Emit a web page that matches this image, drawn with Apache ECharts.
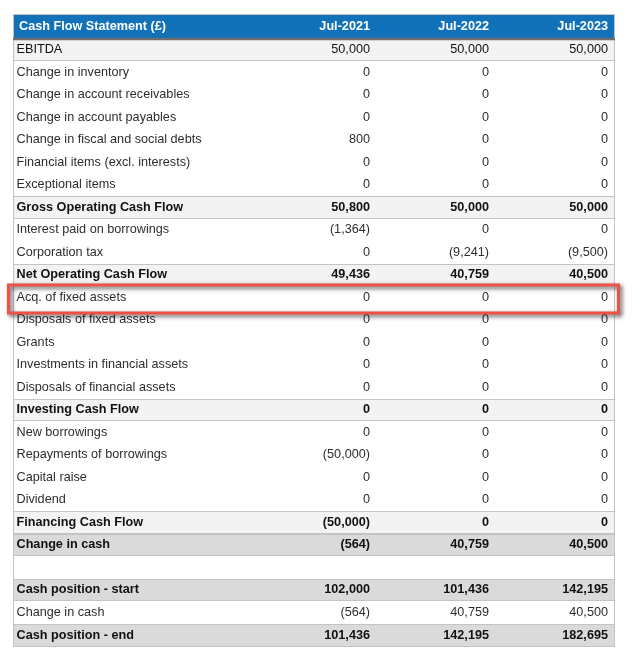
<!DOCTYPE html>
<html>
<head>
<meta charset="utf-8">
<script src="https://cdn.jsdelivr.net/npm/echarts@6/dist/echarts.min.js"></script>
<style>
html,body{margin:0;padding:0;background:#fff;}
#chart{width:641px;height:662px;}
</style>
</head>
<body>
<div id="chart"></div>
<script>
// ---- data ----
const title = 'Cash Flow Statement (£)';
const periods = ['Jul-2021', 'Jul-2022', 'Jul-2023'];
const rowLabels = [
  'EBITDA',
  'Change in inventory',
  'Change in account receivables',
  'Change in account payables',
  'Change in fiscal and social debts',
  'Financial items (excl. interests)',
  'Exceptional items',
  'Gross Operating Cash Flow',
  'Interest paid on borrowings',
  'Corporation tax',
  'Net Operating Cash Flow',
  'Acq. of fixed assets',
  'Disposals of fixed assets',
  'Grants',
  'Investments in financial assets',
  'Disposals of financial assets',
  'Investing Cash Flow',
  'New borrowings',
  'Repayments of borrowings',
  'Capital raise',
  'Dividend',
  'Financing Cash Flow',
  'Change in cash',
  '',
  'Cash position - start',
  'Change in cash',
  'Cash position - end'
];
const rowKinds = [
  'ebitda', 'normal', 'normal', 'normal', 'normal', 'normal', 'normal',
  'subtotal', 'normal', 'normal', 'subtotal',
  'normal', 'normal', 'normal', 'normal', 'normal', 'subtotal',
  'normal', 'normal', 'normal', 'normal', 'subtotal',
  'total', 'blank', 'total', 'normal', 'total'
];
const values2021 = [50000, 0, 0, 0, 800, 0, 0, 50800, -1364, 0, 49436, 0, 0, 0, 0, 0, 0, 0, -50000, 0, 0, -50000, -564, null, 102000, -564, 101436];
const values2022 = [50000, 0, 0, 0, 0, 0, 0, 50000, 0, -9241, 40759, 0, 0, 0, 0, 0, 0, 0, 0, 0, 0, 0, 40759, null, 101436, 40759, 142195];
const values2023 = [50000, 0, 0, 0, 0, 0, 0, 50000, 0, -9500, 40500, 0, 0, 0, 0, 0, 0, 0, 0, 0, 0, 0, 40500, null, 142195, 40500, 182695];
const highlightRow = 11;

// ---- layout / style ----
const TABLE_W = 602;
const LABEL_PAD = 3.5;
const HEADER_PAD = 6;
const VALUE_RIGHT = [357, 476, 595];
const FONT = 'Liberation Sans, Arial, sans-serif';
const FS = 12.67;
const kindStyle = {
  ebitda:   { bg: '#f3f3f3', weight: 'normal', color: '#111111', border: true },
  normal:   { bg: '#ffffff', weight: 'normal', color: '#2e2e2e', border: false },
  subtotal: { bg: '#f3f3f3', weight: 'bold',   color: '#111111', border: true },
  total:    { bg: '#dadada', weight: 'bold',   color: '#111111', border: true },
  blank:    { bg: '#ffffff', weight: 'normal', color: '#2e2e2e', border: false }
};
const valueSeries = [values2021, values2022, values2023];

function fmt(v) {
  if (v === null || v === undefined) return '';
  const s = Math.abs(v).toLocaleString('en-US');
  return v < 0 ? '(' + s + ')' : s;
}

function bodyItem(params, api) {
  const r = api.value(1);
  const c = api.coord([0, r]);
  const h = api.size([0, 1])[1];
  const top = Math.round(c[1] - h / 2);
  const bot = Math.round(c[1] + h / 2);
  const x0 = Math.round(api.coord([0, r])[0]);
  const x1 = Math.round(api.coord([TABLE_W, r])[0]);
  const st = kindStyle[rowKinds[r]];
  const children = [];
  children.push({ type: 'rect', shape: { x: x0, y: top, width: x1 - x0, height: bot - top }, style: { fill: st.bg } });
  if (st.border) {
    children.push({ type: 'line', shape: { x1: x0, y1: top + 0.5, x2: x1, y2: top + 0.5 }, style: { stroke: '#c4c4c4', lineWidth: 1 } });
    children.push({ type: 'line', shape: { x1: x0, y1: bot - 0.5, x2: x1, y2: bot - 0.5 }, style: { stroke: '#c4c4c4', lineWidth: 1 } });
  }
  children.push({ type: 'line', shape: { x1: x0 + 0.5, y1: top, x2: x0 + 0.5, y2: bot }, style: { stroke: '#c4c4c4', lineWidth: 1 } });
  children.push({ type: 'line', shape: { x1: x1 - 0.5, y1: top, x2: x1 - 0.5, y2: bot }, style: { stroke: '#c4c4c4', lineWidth: 1 } });
  const cy = (top + bot) / 2;
  children.push({
    type: 'text',
    style: {
      x: api.coord([LABEL_PAD, r])[0], y: cy, text: rowLabels[r],
      fill: st.color, font: st.weight + ' ' + FS + 'px ' + FONT,
      align: 'left', verticalAlign: 'middle'
    }
  });
  for (let k = 0; k < periods.length; k++) {
    children.push({
      type: 'text',
      style: {
        x: api.coord([VALUE_RIGHT[k], r])[0], y: cy, text: fmt(valueSeries[k][r]),
        fill: st.color, font: st.weight + ' ' + FS + 'px ' + FONT,
        align: 'right', verticalAlign: 'middle'
      }
    });
  }
  return { type: 'group', children: children };
}

function headerItem(params, api) {
  const c = api.coord([0, 0]);
  const h = api.size([0, 1])[1];
  const top = Math.round(c[1] - h / 2);
  const bot = Math.round(c[1] + h / 2);
  const x0 = Math.round(api.coord([0, 0])[0]);
  const x1 = Math.round(api.coord([TABLE_W, 0])[0]);
  const children = [];
  children.push({ type: 'rect', shape: { x: x0 + 0.5, y: top + 0.5, width: x1 - x0 - 1, height: bot - top }, style: { fill: '#1172b9', stroke: '#c4c4c4', lineWidth: 1 } });
  children.push({ type: 'line', shape: { x1: x0, y1: bot, x2: x1, y2: bot }, style: { stroke: '#6e6e6e', lineWidth: 2.5 } });
  const cy = (top + bot) / 2;
  children.push({
    type: 'text',
    style: { x: api.coord([HEADER_PAD, 0])[0], y: cy, text: title, fill: '#ffffff', font: 'bold ' + FS + 'px ' + FONT, align: 'left', verticalAlign: 'middle' }
  });
  for (let k = 0; k < periods.length; k++) {
    children.push({
      type: 'text',
      style: { x: api.coord([VALUE_RIGHT[k], 0])[0], y: cy, text: periods[k], fill: '#ffffff', font: 'bold ' + FS + 'px ' + FONT, align: 'right', verticalAlign: 'middle' }
    });
  }
  return { type: 'group', children: children };
}

function highlightItem(params, api) {
  const r = api.value(1);
  const c = api.coord([0, r]);
  const h = api.size([0, 1])[1];
  const top = Math.round(c[1] - h / 2);
  const bot = Math.round(c[1] + h / 2);
  const x0 = Math.round(api.coord([0, r])[0]);
  const x1 = Math.round(api.coord([TABLE_W, r])[0]);
  return {
    type: 'rect',
    shape: { x: x0 - 4.5, y: top - 1, width: (x1 - x0) + 8, height: (bot - top) + 5 },
    style: {
      fill: 'none', stroke: '#ef5146', lineWidth: 3,
      shadowBlur: 4, shadowColor: 'rgba(0,0,0,0.7)', shadowOffsetX: 2, shadowOffsetY: 2
    }
  };
}

const chart = echarts.init(document.getElementById('chart'), null, { renderer: 'canvas' });
chart.setOption({
  animation: false,
  backgroundColor: '#ffffff',
  grid: [
    { left: 13, width: TABLE_W, top: 38.5, height: 608 },
    { left: 13, width: TABLE_W, top: 14, height: 24.5 }
  ],
  xAxis: [
    { type: 'value', gridIndex: 0, min: 0, max: TABLE_W, show: false },
    { type: 'value', gridIndex: 1, min: 0, max: TABLE_W, show: false }
  ],
  yAxis: [
    { type: 'category', gridIndex: 0, inverse: true, data: rowLabels.map((_, i) => 'r' + i), show: false },
    { type: 'category', gridIndex: 1, inverse: true, data: ['header'], show: false }
  ],
  series: [
    {
      type: 'custom', xAxisIndex: 0, yAxisIndex: 0, z: 2,
      renderItem: bodyItem,
      data: rowLabels.map((_, i) => [0, i]),
      silent: true
    },
    {
      type: 'custom', xAxisIndex: 1, yAxisIndex: 1, z: 3,
      renderItem: headerItem,
      data: [[0, 0]],
      silent: true
    },
    {
      type: 'custom', xAxisIndex: 0, yAxisIndex: 0, z: 5,
      renderItem: highlightItem,
      data: [[0, highlightRow]],
      silent: true
    }
  ]
});
</script>
</body>
</html>
